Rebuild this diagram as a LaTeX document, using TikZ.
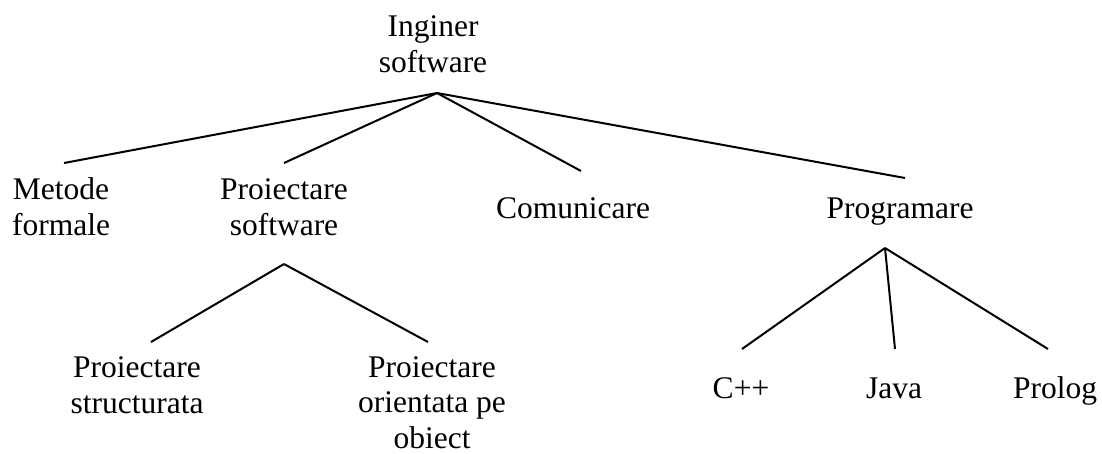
\documentclass[tikz,border=0pt]{standalone}
\usepackage{fontspec}
\setmainfont{Liberation Serif}

\begin{document}
\begin{tikzpicture}[x=1pt, y=-1pt,
    label/.style={anchor=base, align=center, inner sep=0pt,
      font=\fontsize{31.5}{35.5}\selectfont},
    branch/.style={line width=2pt}]

\useasboundingbox (0,0) rectangle (1102,453);

% Text nodes (placed at the baseline of their last line)
\node [label] (root) at (433,72) {Inginer\\software};
\node [label] (metode) at (61,235) {Metode\\formale};
\node [label] (proiect) at (284,235) {Proiectare\\software};
\node [label] (comunic) at (573,218) {Comunicare};
\node [label] (program) at (900,218) {Programare};
\node [label] (struct) at (137,413) {Proiectare\\structurata};
\node [label] (orient) at (432,448) {Proiectare\\orientata pe\\obiect};
\node [label] (cpp) at (741,398) {C++};
\node [label] (java) at (894,398) {Java};
\node [label] (prolog) at (1055,398) {Prolog};

% Branch points
\coordinate (root-b) at (437,93);
\coordinate (proiect-b) at (284,264);
\coordinate (program-b) at (885,248);

% Ends of the branches
\coordinate (metode-t) at (64,163);
\coordinate (proiect-t) at (284,163);
\coordinate (comunic-t) at (581,171);
\coordinate (program-t) at (905,178);
\coordinate (struct-t) at (151,342);
\coordinate (orient-t) at (428,342);
\coordinate (cpp-t) at (742,349);
\coordinate (java-t) at (895,349);
\coordinate (prolog-t) at (1048,349);

% Draw the tree
\foreach \n in {metode, proiect, comunic, program}
  \draw [branch] (root-b) -- (\n-t);
\foreach \n in {struct, orient}
  \draw [branch] (proiect-b) -- (\n-t);
\foreach \n in {cpp, java, prolog}
  \draw [branch] (program-b) -- (\n-t);

\end{tikzpicture}
\end{document}
